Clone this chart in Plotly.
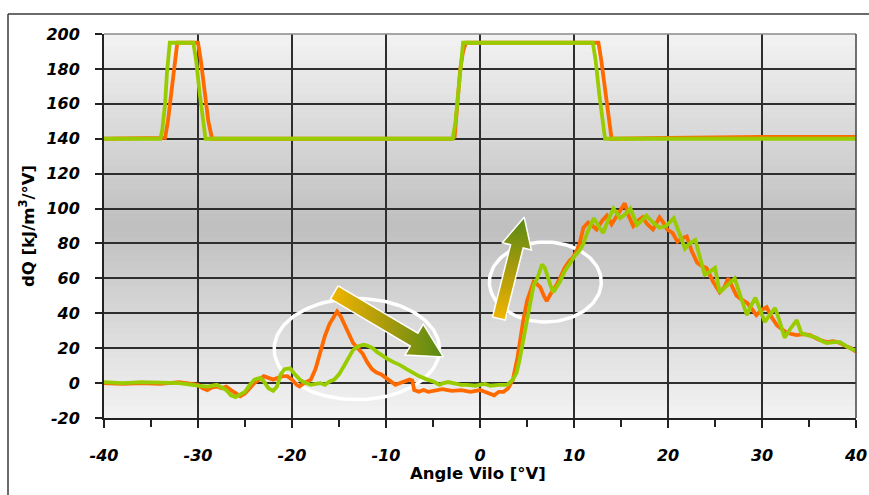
import math
import plotly.graph_objects as go

# ---- data ----
# upper curves (valve lift style, offset to 140)
x_top_orange = [-40, -36, -34, -33.5, -33.2, -32.8, -32.4, -32.2, -31, -30, -29.7, -29.3, -28.9, -28.5,
                -26, -20, -10, -3, -2.7, -2.4, -2.1, -1.8, -1.5, 5, 12.6, 12.9, 13.3, 13.7, 14.0,
                20, 25, 30, 35, 40]
y_top_orange = [140, 140, 140, 140.5, 150, 170, 190, 195, 195, 195, 185, 165, 150, 140,
                140, 140, 140, 140, 141, 160, 180, 190, 195, 195, 195, 185, 168, 150, 140,
                140.5, 141, 141, 141, 141]

x_top_green = [-40, -34, -33.8, -33.5, -33.3, -33.0, -30.5, -30.2, -29.8, -29.4, -29.2, -20, -10,
               -2.9, -2.6, -2.3, -2.0, -1.8, 12.0, 12.3, 12.7, 13.0, 13.3, 20, 30, 40]
y_top_green = [140, 140, 145, 160, 178, 195, 195, 185, 165, 148, 140, 140, 140,
               140, 150, 168, 185, 195, 195, 185, 165, 150, 140, 140, 140, 140]

# lower curves (heat release dQ)
x_dq_orange = [-40, -38, -36, -34, -32, -31, -30, -29.5, -29, -28.5, -28, -27.5, -27, -26.5, -26,
               -25.5, -25, -24.5, -24, -23.5, -23, -22.5, -22, -21.5, -21, -20.5, -20, -19.5, -19.2,
               -18.7, -18, -17.5, -17, -16.5, -16, -15.5, -15.2, -14.8, -14.3, -14, -13.5, -13,
               -12.5, -12, -11.5, -11, -10.5, -10, -9.5, -9, -8.5, -8, -7.5, -7.2, -7, -6.5, -6,
               -5.5, -5, -4, -3, -2, -1, 0, 0.5, 1, 1.5, 2, 2.5, 3, 3.5, 4, 4.3, 4.6, 5, 5.3,
               5.7, 6, 6.4, 6.8, 7.1, 7.5, 8, 8.5, 9, 9.5, 9.9, 10.3, 10.6, 11, 11.5, 12, 12.4,
               13, 13.5, 14, 14.5, 15, 15.4, 15.8, 16.3, 16.8, 17.3, 17.8, 18.4, 19.1, 19.5, 19.9,
               20.5, 21, 21.5, 22, 22.5, 23.1, 23.6, 24.1, 24.8, 25.5, 26, 26.4, 26.9, 27.3, 27.8,
               28.4, 29, 29.4, 30, 30.5, 31, 31.6, 32.1, 32.6, 33.2, 33.7, 34.4, 35.1, 36, 36.9,
               37.6, 38.3, 39, 39.5, 40]
y_dq_orange = [0, -0.5, 0, -0.5, 0.5, 0, -1, -3, -4, -2.5, -2, -3, -2, -4, -6,
               -7.5, -6, -3, 0, 2, 4, 3, 2, 3, 4, 4, 2, -1, -2,
               0, 2, 8, 18, 27, 34, 39, 41, 38, 32, 29, 23, 20,
               17, 12, 8, 6, 5, 3, 1, -1, 0, 1, 2, 1.5, -4, -5, -4,
               -5, -4.5, -3.5, -4.5, -4, -5, -4, -5, -6, -7, -5, -5, -3, 2, 15, 26, 36, 47, 52,
               58, 57, 55, 50, 47, 51, 55, 60, 66, 70, 72, 76, 80, 89, 92, 90, 88,
               93, 96, 91, 95, 99, 103, 96, 90, 93, 95, 91, 88, 95, 92, 88,
               86, 81, 83, 84, 76, 69, 67, 66, 58, 52, 55, 60, 55, 50, 48,
               46, 42, 39, 42, 43.5, 38, 33, 31, 29, 28, 27.5, 28, 27.5, 25, 23.5,
               24, 23, 21, 20, 18]

x_dq_green = [-40, -38, -36, -34, -32, -30, -29, -28, -27, -26.5, -26, -25.5, -25, -24.5, -24,
              -23.4, -23, -22.5, -22, -21.6, -21.2, -20.8, -20.2, -19.7, -19.1, -18.5, -18, -17.5,
              -17, -16.5, -16, -15.5, -15, -14.5, -14, -13.5, -13, -12.4, -12, -11.4, -11, -10.5,
              -9.9, -9.2, -8.5, -7.8, -7.1, -6.5, -5.6, -5, -4.3, -3.9, -3.4, -3, -2, -1.4, -0.5,
              0.5, 1.1, 2, 2.9, 3.5, 3.9, 4.2, 4.5, 4.8, 5.1, 5.4, 5.7, 6.1, 6.6, 6.9, 7.1, 7.5,
              7.8, 8.2, 8.5, 9, 9.6, 10.1, 10.6, 11, 11.4, 11.8, 12.1, 12.6, 13.1, 13.6, 14.2,
              14.6, 14.9, 15.5, 16, 16.3, 16.7, 17.2, 17.7, 18.4, 19.1, 19.8, 20.6, 21.2, 21.8,
              22.3, 22.9, 23.4, 23.9, 24.5, 25, 25.5, 25.9, 26.3, 27.1, 27.7, 28.4, 28.8, 29.3,
              29.8, 30.3, 30.8, 31.4, 31.9, 32.4, 33, 33.7, 34.2, 35, 35.8, 36.4, 36.9, 37.6,
              38.3, 39, 39.7, 40]
y_dq_green = [0.5, 0, 0.5, 0, 0, -1.5, -2, -1, -4, -7, -8, -6.5, -5, -1, 2,
              3, 1, -3, -4.5, -2, 5, 8, 8.5, 5, 1.7, 0, -1, -0.5,
              0, -1, 1, 2, 5, 9.5, 14, 19, 21, 22, 21.5, 20, 18, 16,
              14, 12, 10.3, 8, 5.7, 4, 2, 1, -1, 0, 0.6, 0, -1, -1, -1.5,
              -0.5, -1.5, -1, -1, 2, 6, 13, 22, 30, 41, 49, 56, 60, 68, 66, 62, 56,
              52, 55, 58, 64, 69, 73, 76, 80, 86, 91, 94.5, 90, 86, 93, 100,
              97, 94.5, 97, 100, 96, 90.6, 93, 96, 92, 89, 90, 94.5, 86, 77,
              80, 82, 72, 62, 64, 66, 52, 54, 56, 60, 50, 39, 44, 49,
              42, 35, 39, 43, 35, 26, 31, 36, 28.5, 27, 26, 24, 23, 23.5,
              23.5, 21, 19, 19]

x_tick_vals = [-40, -30, -20, -10, 0, 10, 20, 30, 40]
x_tick_text = ["-40", "-30", "-20", "-10", "0", "10", "20", "30", "40"]
y_tick_vals = [-20, 0, 20, 40, 60, 80, 100, 120, 140, 160, 180, 200]
y_tick_text = ["-20", "0", "20", "40", "60", "80", "100", "120", "140", "160", "180", "200"]

ORANGE = "#FF6A00"
GREEN = "#99CC00"
ARROW_SCALE = [[0, "#F2B600"], [0.5, "#A89A0C"], [1, "#568A14"]]

W, H = 869, 495
ML, MR, MT, MB = 104, 13, 34, 77
X_RANGE = (-40, 40)
Y_RANGE = (-20, 200)
PW, PH = W - ML - MR, H - MT - MB
SX = PW / (X_RANGE[1] - X_RANGE[0])   # px per x unit
SY = PH / (Y_RANGE[1] - Y_RANGE[0])   # px per y unit


def arrow_poly(tail, tip, shaft_w, head_w, head_l):
    """Arrow outline in data coords, geometry worked out in pixel space."""
    tx, ty = tail[0] * SX, tail[1] * SY
    px, py = tip[0] * SX, tip[1] * SY
    L = math.hypot(px - tx, py - ty)
    ux, uy = (px - tx) / L, (py - ty) / L
    nx, ny = -uy, ux
    bx, by = px - ux * head_l, py - uy * head_l
    pts = [
        (tx + nx * shaft_w / 2, ty + ny * shaft_w / 2),
        (bx + nx * shaft_w / 2, by + ny * shaft_w / 2),
        (bx + nx * head_w / 2, by + ny * head_w / 2),
        (px, py),
        (bx - nx * head_w / 2, by - ny * head_w / 2),
        (bx - nx * shaft_w / 2, by - ny * shaft_w / 2),
        (tx - nx * shaft_w / 2, ty - ny * shaft_w / 2),
    ]
    pts.append(pts[0])
    return [p[0] / SX for p in pts], [p[1] / SY for p in pts]


def ellipse_xy(x0, x1, y0, y1, n=120):
    cx, cy, rx, ry = (x0 + x1) / 2, (y0 + y1) / 2, (x1 - x0) / 2, (y1 - y0) / 2
    ang = [2 * math.pi * i / n for i in range(n + 1)]
    return [cx + rx * math.cos(a) for a in ang], [cy + ry * math.sin(a) for a in ang]


fig = go.Figure()

# highlight ellipses (drawn first so the curves sit on top)
for box in [(-21.9, -4.3, -9.5, 48.5), (1.0, 12.9, 35.0, 80.8)]:
    ex, ey = ellipse_xy(*box)
    fig.add_trace(go.Scatter(x=ex, y=ey, mode="lines", line=dict(color="white", width=3.5),
                             showlegend=False, hoverinfo="skip"))

fig.add_trace(go.Scatter(x=x_top_orange, y=y_top_orange, mode="lines",
                         line=dict(color=ORANGE, width=3.8), showlegend=False))
fig.add_trace(go.Scatter(x=x_dq_orange, y=y_dq_orange, mode="lines",
                         line=dict(color=ORANGE, width=3.8), showlegend=False))
fig.add_trace(go.Scatter(x=x_top_green, y=y_top_green, mode="lines",
                         line=dict(color=GREEN, width=3.8), showlegend=False))
fig.add_trace(go.Scatter(x=x_dq_green, y=y_dq_green, mode="lines",
                         line=dict(color=GREEN, width=3.8), showlegend=False))

# gradient arrows
ax1, ay1 = arrow_poly((-15.5, 52), (-3.9, 15), 15, 36, 34)
fig.add_trace(go.Scatter(x=ax1, y=ay1, mode="lines", fill="toself",
                         line=dict(color="white", width=1.5),
                         fillgradient=dict(type="horizontal", colorscale=ARROW_SCALE),
                         showlegend=False, hoverinfo="skip"))
ax2, ay2 = arrow_poly((2.0, 37), (4.7, 95), 13, 30, 30)
fig.add_trace(go.Scatter(x=ax2, y=ay2, mode="lines", fill="toself",
                         line=dict(color="white", width=1.5),
                         fillgradient=dict(type="vertical", colorscale=ARROW_SCALE),
                         showlegend=False, hoverinfo="skip"))

shapes = []
# plot-area background gradient: light at top/bottom, darker in the middle
N = 64
for i in range(N):
    t = (i + 0.5) / N
    g = int(round(243 - 52 * (1 - abs(2 * t - 1))))
    shapes.append(dict(type="rect", xref="x domain", yref="y domain", x0=0, x1=1,
                       y0=i / N, y1=(i + 1) / N, fillcolor=f"rgb({g},{g},{g})",
                       line=dict(width=0), layer="below"))
# top and right border of plot area
shapes.append(dict(type="line", xref="x domain", yref="y domain", x0=0, x1=1, y0=1, y1=1,
                   line=dict(color="#8a8a8a", width=1.5), layer="above"))
shapes.append(dict(type="line", xref="x domain", yref="y domain", x0=1, x1=1, y0=0, y1=1,
                   line=dict(color="#444444", width=1.5), layer="above"))
# outer chart frame (left and top edges)
fx0 = (8 - ML) / PW
fy1 = (H - MB - 14) / PH
shapes.append(dict(type="line", xref="paper", yref="paper", x0=fx0, x1=(W - ML) / PW, y0=fy1, y1=fy1,
                   line=dict(color="#3a3a3a", width=1.5)))
shapes.append(dict(type="line", xref="paper", yref="paper", x0=fx0, x1=fx0, y0=fy1, y1=-MB / PH,
                   line=dict(color="#3a3a3a", width=1.5)))

tick_font = dict(family="DejaVu Sans", size=16, color="black", weight="bold", style="italic")
title_font = dict(family="DejaVu Sans", size=16.5, color="black", weight="bold")

fig.update_layout(
    width=W, height=H, autosize=False,
    margin=dict(l=ML, r=MR, t=MT, b=MB, autoexpand=False),
    paper_bgcolor="white",
    plot_bgcolor="#dddddd",
    shapes=shapes,
    annotations=[
        dict(text="Angle Vilo [°V]", xref="paper", yref="paper",
             x=(478 - ML) / PW, y=(H - MB - 473) / PH,
             xanchor="center", yanchor="middle", showarrow=False, font=title_font),
        dict(text="dQ [kJ/m<sup>3</sup>/°V]", xref="paper", yref="paper",
             x=(27 - ML) / PW, y=0.5,
             xanchor="center", yanchor="middle", textangle=-90, showarrow=False, font=title_font),
    ],
)
fig.update_xaxes(range=list(X_RANGE), tickmode="array", tickvals=x_tick_vals, ticktext=x_tick_text,
                 showgrid=True, gridcolor="#2e2e2e", gridwidth=1.5, zeroline=False,
                 showline=True, linecolor="#222222", linewidth=2,
                 ticks="outside", ticklen=8, tickwidth=2, tickcolor="#222222",
                 minor=dict(tickvals=[-35, -25, -15, -5, 5, 15, 25, 35], ticks="outside",
                            ticklen=7, tickwidth=2, tickcolor="#222222", showgrid=False),
                 tickfont=tick_font, ticklabelstandoff=14, automargin=False)
fig.update_yaxes(range=list(Y_RANGE), tickmode="array", tickvals=y_tick_vals, ticktext=y_tick_text,
                 showgrid=True, gridcolor="#2e2e2e", gridwidth=1.5, zeroline=False,
                 showline=True, linecolor="#222222", linewidth=2,
                 ticks="outside", ticklen=7, tickwidth=2, tickcolor="#222222",
                 tickfont=tick_font, ticklabelstandoff=12, automargin=False)

# drop the default page margin and scrollbars so the figure fills the window exactly
fig.write_html(
    "out.html",
    config={"displayModeBar": False},
    post_script=("document.documentElement.style.overflow='hidden';"
                 "document.body.style.margin='0';document.body.style.overflow='hidden';"),
)
